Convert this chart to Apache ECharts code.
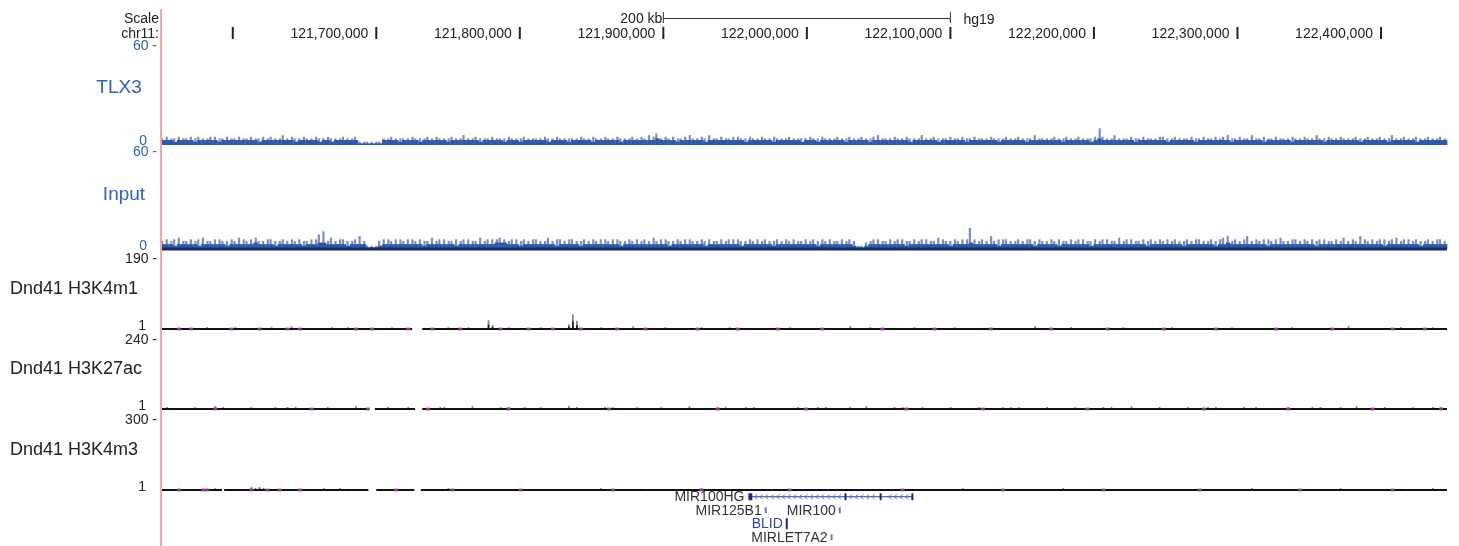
<!DOCTYPE html>
<html><head><meta charset="utf-8">
<script src="https://cdn.jsdelivr.net/npm/echarts@6/dist/echarts.min.js"></script>
<style>html,body{margin:0;padding:0;background:#fff}#c{width:1459px;height:546px}</style>
</head><body><div id="c"></div>
<script>
// ---------------- data ----------------
const chromStart = 121550000;
const chromEnd = 122446000;
const binSize = 2800;
const assembly = 'hg19';
const chromLabel = 'chr11:';
const rulerTicks = [121600000,121700000,121800000,121900000,122000000,122100000,122200000,122300000,122400000];
const rulerLabels = ['','121,700,000','121,800,000','121,900,000','122,000,000','122,100,000','122,200,000','122,300,000','122,400,000'];
const scaleBar = [121900000, 122100000];
const trackNames = ['TLX3','Input','Dnd41 H3K4m1','Dnd41 H3K27ac','Dnd41 H3K4m3'];
const trackMins = [0, 0, 1, 1, 1];
const trackMaxs = [60, 60, 190, 240, 300];

const tlx3Mean = [
3,3,3,2,3,3,3,3,2,3,3,3,3,3,2,3,3,3,3,3,
3,3,3,3,2,3,3,3,3,3,3,3,3,2,3,3,3,3,3,2,
3,3,2,3,3,3,3,3,3,1,1,1,1,1,1,3,3,3,3,2,
3,3,3,3,2,3,3,3,3,3,3,2,3,3,3,3,3,3,3,2,
3,3,3,3,3,2,3,3,3,2,3,3,3,3,3,3,2,3,3,3,
3,2,3,3,3,3,3,2,3,3,3,3,3,3,2,3,3,3,3,3,
3,3,3,4,3,3,3,3,2,3,3,3,3,3,3,2,3,3,3,3,
3,3,3,3,3,2,3,3,3,3,3,3,2,3,3,3,3,3,3,2,
3,3,3,2,3,3,3,3,3,3,2,3,3,3,3,3,2,3,3,3,
3,3,3,3,3,3,2,3,3,3,3,3,3,2,3,3,3,3,3,3,
2,3,3,3,3,3,3,3,2,3,3,3,3,3,3,2,3,3,3,3,
3,3,3,3,2,3,3,3,3,3,3,2,3,4,3,3,3,3,3,3,
3,3,2,3,3,3,3,3,3,3,2,3,3,3,3,3,3,2,3,3,
3,3,3,3,3,3,2,3,3,3,3,3,3,3,2,3,3,3,3,3,
3,2,3,3,3,3,3,3,3,2,3,3,3,3,3,3,3,3,2,3,
3,3,3,3,3,2,3,3,3,3,3,3,2,3,3,3,3,3,3,3];
const tlx3Max = [
4,5,4,4,5,4,4,5,4,5,4,4,5,5,4,4,5,4,4,5,
4,4,5,4,4,5,4,5,4,4,6,4,5,4,4,5,4,4,5,4,
4,5,4,4,4,5,4,4,5,2,2,2,2,2,2,4,4,5,4,4,
4,4,5,4,4,4,5,4,5,4,4,4,5,4,4,6,4,4,5,4,
4,4,5,4,4,4,5,4,4,4,5,4,4,4,4,5,4,4,5,4,
4,4,4,4,5,4,4,5,4,4,5,4,4,5,4,4,4,5,4,5,
4,6,5,7,4,5,4,5,4,4,5,6,4,4,5,4,6,4,4,5,
4,4,5,5,4,4,5,4,4,5,4,4,5,4,4,4,5,4,4,4,
4,5,4,4,5,4,4,4,5,4,4,5,4,4,5,4,4,5,6,4,
4,4,5,4,4,5,4,4,4,6,4,4,5,4,4,4,5,4,4,5,
4,4,5,4,4,4,5,4,4,4,5,4,4,5,4,4,4,6,4,4,
4,4,5,4,4,5,4,4,5,4,4,4,5,10,5,4,4,6,4,4,
4,5,4,4,5,4,4,4,5,5,4,4,5,4,4,4,5,4,4,5,
4,4,5,4,5,6,4,4,5,4,4,6,4,4,5,4,4,5,4,4,
4,5,4,4,5,4,4,6,4,4,5,4,4,5,4,4,4,5,4,4,
5,4,4,5,4,4,6,4,4,5,4,4,5,4,4,5,4,4,5,4];

const inputMean = [
3,3,3,2,3,3,3,3,3,2,3,3,3,3,3,3,2,3,3,3,
3,3,3,4,3,3,3,3,2,3,3,3,3,3,3,2,3,3,3,4,
4,3,3,3,3,3,2,3,3,3,3,1,1,1,2,3,3,3,3,3,
3,3,3,3,3,2,3,3,3,3,3,3,3,2,3,3,3,3,3,3,
3,3,3,4,4,4,3,3,3,2,3,3,3,3,3,3,3,3,2,3,
3,3,3,3,2,3,3,3,3,3,3,3,3,3,2,3,3,3,3,3,
3,3,3,3,3,3,2,3,3,3,3,3,3,3,3,2,3,3,3,3,
3,3,3,3,2,3,3,3,3,3,3,3,2,3,3,3,3,3,3,3,
3,3,3,2,3,3,3,3,3,3,3,3,2,1,1,2,3,3,3,3,
3,3,3,3,3,2,3,3,3,3,3,3,3,3,3,3,2,3,3,3,
3,4,3,3,3,3,3,3,2,3,3,3,3,3,3,3,3,2,3,3,
3,3,3,2,3,3,3,3,3,3,3,2,3,3,3,3,3,3,3,3,
3,3,3,3,3,2,3,3,3,3,3,3,3,3,2,3,3,3,3,3,
3,3,2,3,3,4,3,3,3,3,3,3,3,3,3,2,3,3,3,3,
3,3,3,3,3,3,3,2,3,3,3,3,3,3,3,3,3,3,3,3,
3,3,3,3,2,3,3,3,3,3,3,3,3,2,3,3,3,3,3,3];
const inputMax = [
5,6,5,6,7,5,5,6,5,6,7,5,5,6,6,5,5,6,5,7,
6,5,6,7,5,5,6,6,5,5,6,5,6,5,6,5,5,6,6,9,
11,5,7,5,6,6,5,5,6,8,5,2,2,2,5,6,6,5,6,6,
5,6,6,5,6,5,5,7,5,6,6,5,5,6,5,6,6,5,5,7,
5,6,6,6,7,6,5,6,6,5,6,5,6,6,5,5,7,5,6,6,
5,6,6,5,5,6,5,6,5,6,6,5,6,6,5,5,6,5,6,5,
6,5,7,5,6,6,5,5,6,5,6,6,5,5,6,5,6,5,5,6,
5,6,6,6,5,5,6,5,6,5,6,5,5,6,5,6,5,6,5,5,
6,5,6,5,6,5,6,5,5,6,5,6,5,2,2,4,5,6,6,5,
5,6,5,6,6,5,5,6,5,6,6,5,5,7,6,5,5,6,5,6,
6,13,6,5,6,5,8,5,6,6,6,5,5,6,5,6,6,5,6,5,
5,6,5,6,5,5,6,5,6,6,5,5,6,5,6,6,5,5,7,5,
6,6,5,5,6,5,6,5,6,5,6,5,6,5,5,6,5,6,6,5,
5,6,5,6,7,8,5,6,5,6,8,5,6,5,6,6,5,6,7,5,
5,6,6,5,6,5,6,5,6,6,5,5,6,5,7,5,6,5,8,6,
5,6,5,6,6,5,6,7,5,6,6,5,6,5,5,6,5,6,6,5];

// covered (non-gap) regions of each track
const inputCovered = [[121550000,122446000]];
const k4m1Covered = [[121550000,121725000],[121732000,122446000]];
const k27acCovered = [[121550000,121695000],[121699000,121727000],[121732000,122446000]];
const k4m3Covered = [[121550000,121592500],[121594000,121694500],[121700000,121726500],[121731000,122446000]];

// sparse signal above baseline (bin index, value)
const k4m1Bins = [11,18,27,32,42,46,57,71,76,81,82,86,94,101,102,103,109,117,125,134,141,156,171,176,187,197,217,226,239,251,266,281,295,308,316];
const k4m1Vals = [6,6,6,9,6,6,6,6,6,25,12,6,6,14,41,23,6,9,6,6,6,6,9,6,6,6,9,6,6,6,6,6,9,6,6];
const k27acBins = [1,4,8,11,13,17,22,24,28,31,35,38,41,45,48,50,56,58,61,67,70,73,77,80,84,88,90,94,97,101,103,107,110,114,118,121,124,128,131,133,138,141,145,147,150,155,158,161,165,168,171,175,178,182,186,189,192,196,199,203,207,209,213,216,220,224,227,231,234,238,241,244,248,252,255,258,262,265,269,272,276,280,283,286,290,293,297,301,304,307,311,314,318,
  3,6,15,20,26,33,43,47,59,69,75,82,86,92,99,105,112,116,126,135,140,143,152,157,163,173,180,184,194,201,205,211,218,222,229,236,246,250,260,267,274,278,288,295,299,309,316];
const k27acVals = [8,4,8,4,11,4,8,4,8,8,4,4,8,4,11,4,8,4,8,4,8,4,11,4,8,4,8,8,4,11,8,4,8,4,8,4,8,4,11,4,8,4,8,8,4,4,8,4,8,4,8,11,4,8,4,8,4,8,4,8,4,8,8,4,8,4,8,4,8,4,11,4,8,4,8,4,8,4,8,8,4,8,4,8,4,8,11,4,8,4,8,4,8,
  4,4,8,4,4,8,4,4,4,8,4,4,8,4,4,4,8,4,4,4,8,4,4,4,8,4,4,8,4,4,4,8,4,4,4,8,4,4,8,4,4,4,8,4,4,4,8];
const k4m3Bins = [13,22,23,24,25,32,40,44,46,71,77,109,119,134,149,168,184,199,224,239,258,271,281,293,308,316];
const k4m3Vals = [10,14,10,14,10,6,10,10,6,10,6,10,6,10,6,6,6,10,10,6,6,10,6,10,6,10];
// points flagged on the baseline (bin index)
const k4m1Dots = [4,7,17,24,31,34,48,52,61,67,74,84,91,97,104,113,120,133,143,153,164,179,192,206,221,235,249,262,277,291,306,314];
const k27acDots = [13,37,51,66,86,111,138,160,185,204,230,259,280,301,318];
const k4m3Dots = [4,10,11,22,26,29,34,58,72,89,112,134,156,184,209,234,258,283,306];

// genes
const geneNames = ['MIR100HG','MIR125B1','MIR100','BLID','MIRLET7A2'];
const geneStarts = [121959300,121971300,122022900,121986000,122017200];
const geneEnds = [122073900,121971400,122023000,121986100,122017300];
const geneRows = [0,1,1,2,3];
const mir100hgExonStarts = [121959300,122026200,122050700,122072800];
const mir100hgExonEnds = [121962000,122027500,122052000,122073900];

// ---------------- styles ----------------
const FONT = '"Liberation Sans", Arial, Helvetica, sans-serif';
const BLUE = '#2f63b6';
const DARK = '#222222';
const codingGenes = ['BLID'];

const gridBoxes = [
  {top:12, height:11},  // scale bar
  {top:27, height:12},  // ruler
  {top:46, height:99},  // TLX3
  {top:152, height:97}, // Input
  {top:259, height:70}, // H3K4m1
  {top:340, height:69}, // H3K27ac
  {top:420, height:70}, // H3K4m3
  {top:490, height:54}  // genes
];
const grid = gridBoxes.map(g => Object.assign({left:161, right:12}, g));
const xAxis = grid.map((g,i) => ({type:'value', gridIndex:i, min:chromStart, max:chromEnd, show:false}));

function trackAxis(gi, t, color, loPad, loRight){
  const mn = trackMins[t], mx = trackMaxs[t];
  return {type:'value', gridIndex:gi, min:mn, max:mx,
    axisLine:{show:false}, axisTick:{show:false}, splitLine:{show:false},
    axisLabel:{customValues:[mn, mx], margin:4, showMinLabel:true, showMaxLabel:true,
      formatter: v => v === mx ? '{hi|' + mx + ' -}' : '{lo|' + mn + '}',
      rich:{
        hi:{color:color, fontSize:14, fontFamily:FONT},
        lo:{color:color, fontSize:14, fontFamily:FONT, padding:[0, loRight, loPad, 0]}
      }}};
}
const yAxis = [
  {type:'value', gridIndex:0, min:0, max:1, show:false},
  {type:'value', gridIndex:1, min:0, max:1, show:false},
  trackAxis(2, 0, BLUE, 8, 10),
  trackAxis(3, 1, BLUE, 6, 10),
  trackAxis(4, 2, DARK, 6, 11),
  trackAxis(5, 3, DARK, 6, 11),
  trackAxis(6, 4, DARK, 6, 11),
  {type:'category', gridIndex:7, data:['0','1','2','3'], inverse:true, show:false}
];

function binMid(b){ return chromStart + (b + 0.5) * binSize; }
function binData(mean, max){
  return mean.map((m, i) => [chromStart + i * binSize, chromStart + (i + 1) * binSize, m, max[i]]);
}
function signalRender(light, mid){
  return function(params, api){
    const s = api.value(0), e = api.value(1), m = api.value(2), mx = api.value(3);
    const b0 = api.coord([s, 0]), b1 = api.coord([e, 0]);
    const ym = api.coord([s, m])[1], yx = api.coord([s, mx])[1];
    const w = b1[0] - b0[0];
    const off = (params.dataIndex % 3) * 0.15;
    return {type:'group', children:[
      {type:'rect', shape:{x:b0[0] + w * off, y:yx, width:w * 0.55, height:b0[1] - yx}, style:{fill:light}},
      {type:'rect', shape:{x:b0[0], y:ym, width:w + 0.4, height:b0[1] - ym}, style:{fill:mid}}
    ]};
  };
}
function baseSeries(gi, covered, yv, color, thick){
  return {type:'custom', xAxisIndex:gi, yAxisIndex:gi, z:4, silent:true,
    data: covered.map(c => [c[0], c[1], yv]),
    renderItem: (params, api) => {
      const a = api.coord([api.value(0), api.value(2)]), b = api.coord([api.value(1), api.value(2)]);
      return {type:'rect', shape:{x:a[0], y:a[1] - thick / 2, width:b[0] - a[0], height:thick}, style:{fill:color}};
    }};
}
function bumpSeries(gi, bins, vals, yMin){
  return {type:'custom', xAxisIndex:gi, yAxisIndex:gi, z:3, silent:true,
    data: bins.map((b, i) => [binMid(b), vals[i]]),
    renderItem: (params, api) => {
      const x = api.value(0), v = api.value(1);
      const p = api.coord([x, yMin]), t = api.coord([x, v]);
      const h = p[1] - t[1];
      const ch = [{type:'rect', shape:{x:p[0] - 0.9, y:t[1], width:1.8, height:h}, style:{fill:'#8a8a8a'}}];
      if (v >= 12) ch.push({type:'rect', shape:{x:p[0] - 0.9, y:p[1] - h * 0.5, width:1.8, height:h * 0.5}, style:{fill:'#222'}});
      return {type:'group', children:ch};
    }};
}
function dotSeries(gi, bins, yMin){
  return {type:'scatter', xAxisIndex:gi, yAxisIndex:gi, z:5, silent:true,
    symbol:'rect', symbolSize:[4, 3], itemStyle:{color:'#a24aa8'},
    data: bins.map(b => [binMid(b), yMin])};
}

const series = [];
// scale bar
series.push({type:'custom', xAxisIndex:0, yAxisIndex:0, silent:true,
  data:[[scaleBar[0], scaleBar[1]]],
  renderItem:(params, api) => {
    const a = api.coord([api.value(0), 0.5]), b = api.coord([api.value(1), 0.5]);
    const top = api.coord([api.value(0), 1])[1], bot = api.coord([api.value(0), 0])[1];
    const kb = Math.round((api.value(1) - api.value(0)) / 1000) + ' kb';
    const y = Math.round(a[1]) + 0.5;
    return {type:'group', children:[
      {type:'line', shape:{x1:a[0], y1:y, x2:b[0], y2:y}, style:{stroke:'#333', lineWidth:1}},
      {type:'line', shape:{x1:a[0], y1:top, x2:a[0], y2:bot}, style:{stroke:'#333', lineWidth:1}},
      {type:'line', shape:{x1:b[0], y1:top, x2:b[0], y2:bot}, style:{stroke:'#333', lineWidth:1}},
      {type:'text', style:{text:kb, x:a[0] - 1, y:y + 1, align:'right', verticalAlign:'middle', fontSize:14, fontFamily:FONT, fill:'#222'}},
      {type:'text', style:{text:assembly, x:b[0] + 13, y:y + 2, align:'left', verticalAlign:'middle', fontSize:14, fontFamily:FONT, fill:'#222'}}
    ]};
  }});
// ruler
series.push({type:'custom', xAxisIndex:1, yAxisIndex:1, silent:true,
  data: rulerTicks.map(t => [t, 0]),
  renderItem:(params, api) => {
    const p = api.coord([api.value(0), 0]), top = api.coord([api.value(0), 1])[1];
    const ch = [{type:'rect', shape:{x:p[0] - 1, y:top, width:2, height:p[1] - top}, style:{fill:'#222'}}];
    const lab = rulerLabels[params.dataIndex];
    if (lab) ch.push({type:'text', style:{text:lab, x:p[0] - 8, y:p[1] - 4.5, align:'right', verticalAlign:'middle', fontSize:14, fontFamily:FONT, fill:'#222'}});
    return {type:'group', children:ch};
  }});
// TLX3 & Input
series.push({type:'custom', xAxisIndex:2, yAxisIndex:2, z:2, silent:true, data:binData(tlx3Mean, tlx3Max), renderItem:signalRender('#7d8bc9', '#2e58a8')});
series.push({type:'custom', xAxisIndex:3, yAxisIndex:3, z:2, silent:true, data:binData(inputMean, inputMax), renderItem:signalRender('#7d8bc9', '#2e58a8')});
series.push(baseSeries(3, inputCovered, 0, '#1c2d62', 3));
// histone tracks
series.push(baseSeries(4, k4m1Covered, trackMins[2], '#111', 2));
series.push(bumpSeries(4, k4m1Bins, k4m1Vals, trackMins[2]));
series.push(dotSeries(4, k4m1Dots, trackMins[2]));
series.push(baseSeries(5, k27acCovered, trackMins[3], '#111', 2));
series.push(bumpSeries(5, k27acBins, k27acVals, trackMins[3]));
series.push(dotSeries(5, k27acDots, trackMins[3]));
series.push(baseSeries(6, k4m3Covered, trackMins[4], '#111', 2));
series.push(bumpSeries(6, k4m3Bins, k4m3Vals, trackMins[4]));
series.push(dotSeries(6, k4m3Dots, trackMins[4]));
// genes
series.push({type:'custom', xAxisIndex:7, yAxisIndex:7, silent:true,
  data: geneNames.map((n, i) => [geneStarts[i], geneEnds[i], geneRows[i]]),
  renderItem:(params, api) => {
    const i = params.dataIndex, name = geneNames[i];
    const a = api.coord([api.value(0), api.value(2)]), b = api.coord([api.value(1), api.value(2)]);
    const y = a[1];
    const ch = [];
    if (name === 'MIR100HG') {
      ch.push({type:'line', shape:{x1:a[0], y1:y, x2:b[0], y2:y}, style:{stroke:'#2a3a8c', lineWidth:1}});
      const ex = mir100hgExonStarts.map((s, k) => [api.coord([s, 0])[0], api.coord([mir100hgExonEnds[k], 0])[0]]);
      for (let x = a[0] + 7; x < b[0] - 3; x += 5.6) {
        if (ex.some(e => x > e[0] - 3 && x < e[1] + 3)) continue;
        ch.push({type:'polyline', shape:{points:[[x + 1.5, y - 2.5], [x - 1, y], [x + 1.5, y + 2.5]]}, style:{stroke:'#5b6bbf', lineWidth:1, fill:null}});
      }
      ex.forEach(e => ch.push({type:'rect', shape:{x:e[0], y:y - 3.5, width:Math.max(2, e[1] - e[0]), height:7}, style:{fill:'#1c2a75'}}));
    } else {
      const coding = codingGenes.indexOf(name) >= 0;
      const h = coding ? 11 : 6;
      ch.push({type:'rect', shape:{x:a[0] - 1, y:y - h / 2, width:Math.max(2, b[0] - a[0]), height:h}, style:{fill: coding ? '#1c2a75' : '#6b79c9'}});
    }
    ch.push({type:'text', style:{text:name, x:a[0] - 4, y:y + 0.5, align:'right', verticalAlign:'middle', fontSize:14, fontFamily:FONT, fill: codingGenes.indexOf(name) >= 0 ? '#33439a' : '#333'}});
    return {type:'group', children:ch};
  }});

const graphic = [
  {type:'line', z:100, shape:{x1:161, y1:9, x2:161, y2:546}, style:{stroke:'#f4a5a5', lineWidth:2}},
  {type:'text', style:{text:'Scale', x:159, y:19, align:'right', verticalAlign:'middle', fontSize:14, fontFamily:FONT, fill:'#222'}},
  {type:'text', style:{text:chromLabel, x:159, y:34, align:'right', verticalAlign:'middle', fontSize:14, fontFamily:FONT, fill:'#222'}},
  {type:'text', style:{text:trackNames[0], x:119, y:88, align:'center', verticalAlign:'middle', fontSize:19, fontFamily:FONT, fill:BLUE}},
  {type:'text', style:{text:trackNames[1], x:124, y:195, align:'center', verticalAlign:'middle', fontSize:19, fontFamily:FONT, fill:BLUE}},
  {type:'text', style:{text:trackNames[2], x:10, y:289, align:'left', verticalAlign:'middle', fontSize:18, fontFamily:FONT, fill:DARK}},
  {type:'text', style:{text:trackNames[3], x:10, y:369, align:'left', verticalAlign:'middle', fontSize:18, fontFamily:FONT, fill:DARK}},
  {type:'text', style:{text:trackNames[4], x:10, y:450, align:'left', verticalAlign:'middle', fontSize:18, fontFamily:FONT, fill:DARK}}
];

const chart = echarts.init(document.getElementById('c'), null, {renderer:'canvas'});
chart.setOption({animation:false, backgroundColor:'#fff', grid, xAxis, yAxis, series, graphic});
</script></body></html>
